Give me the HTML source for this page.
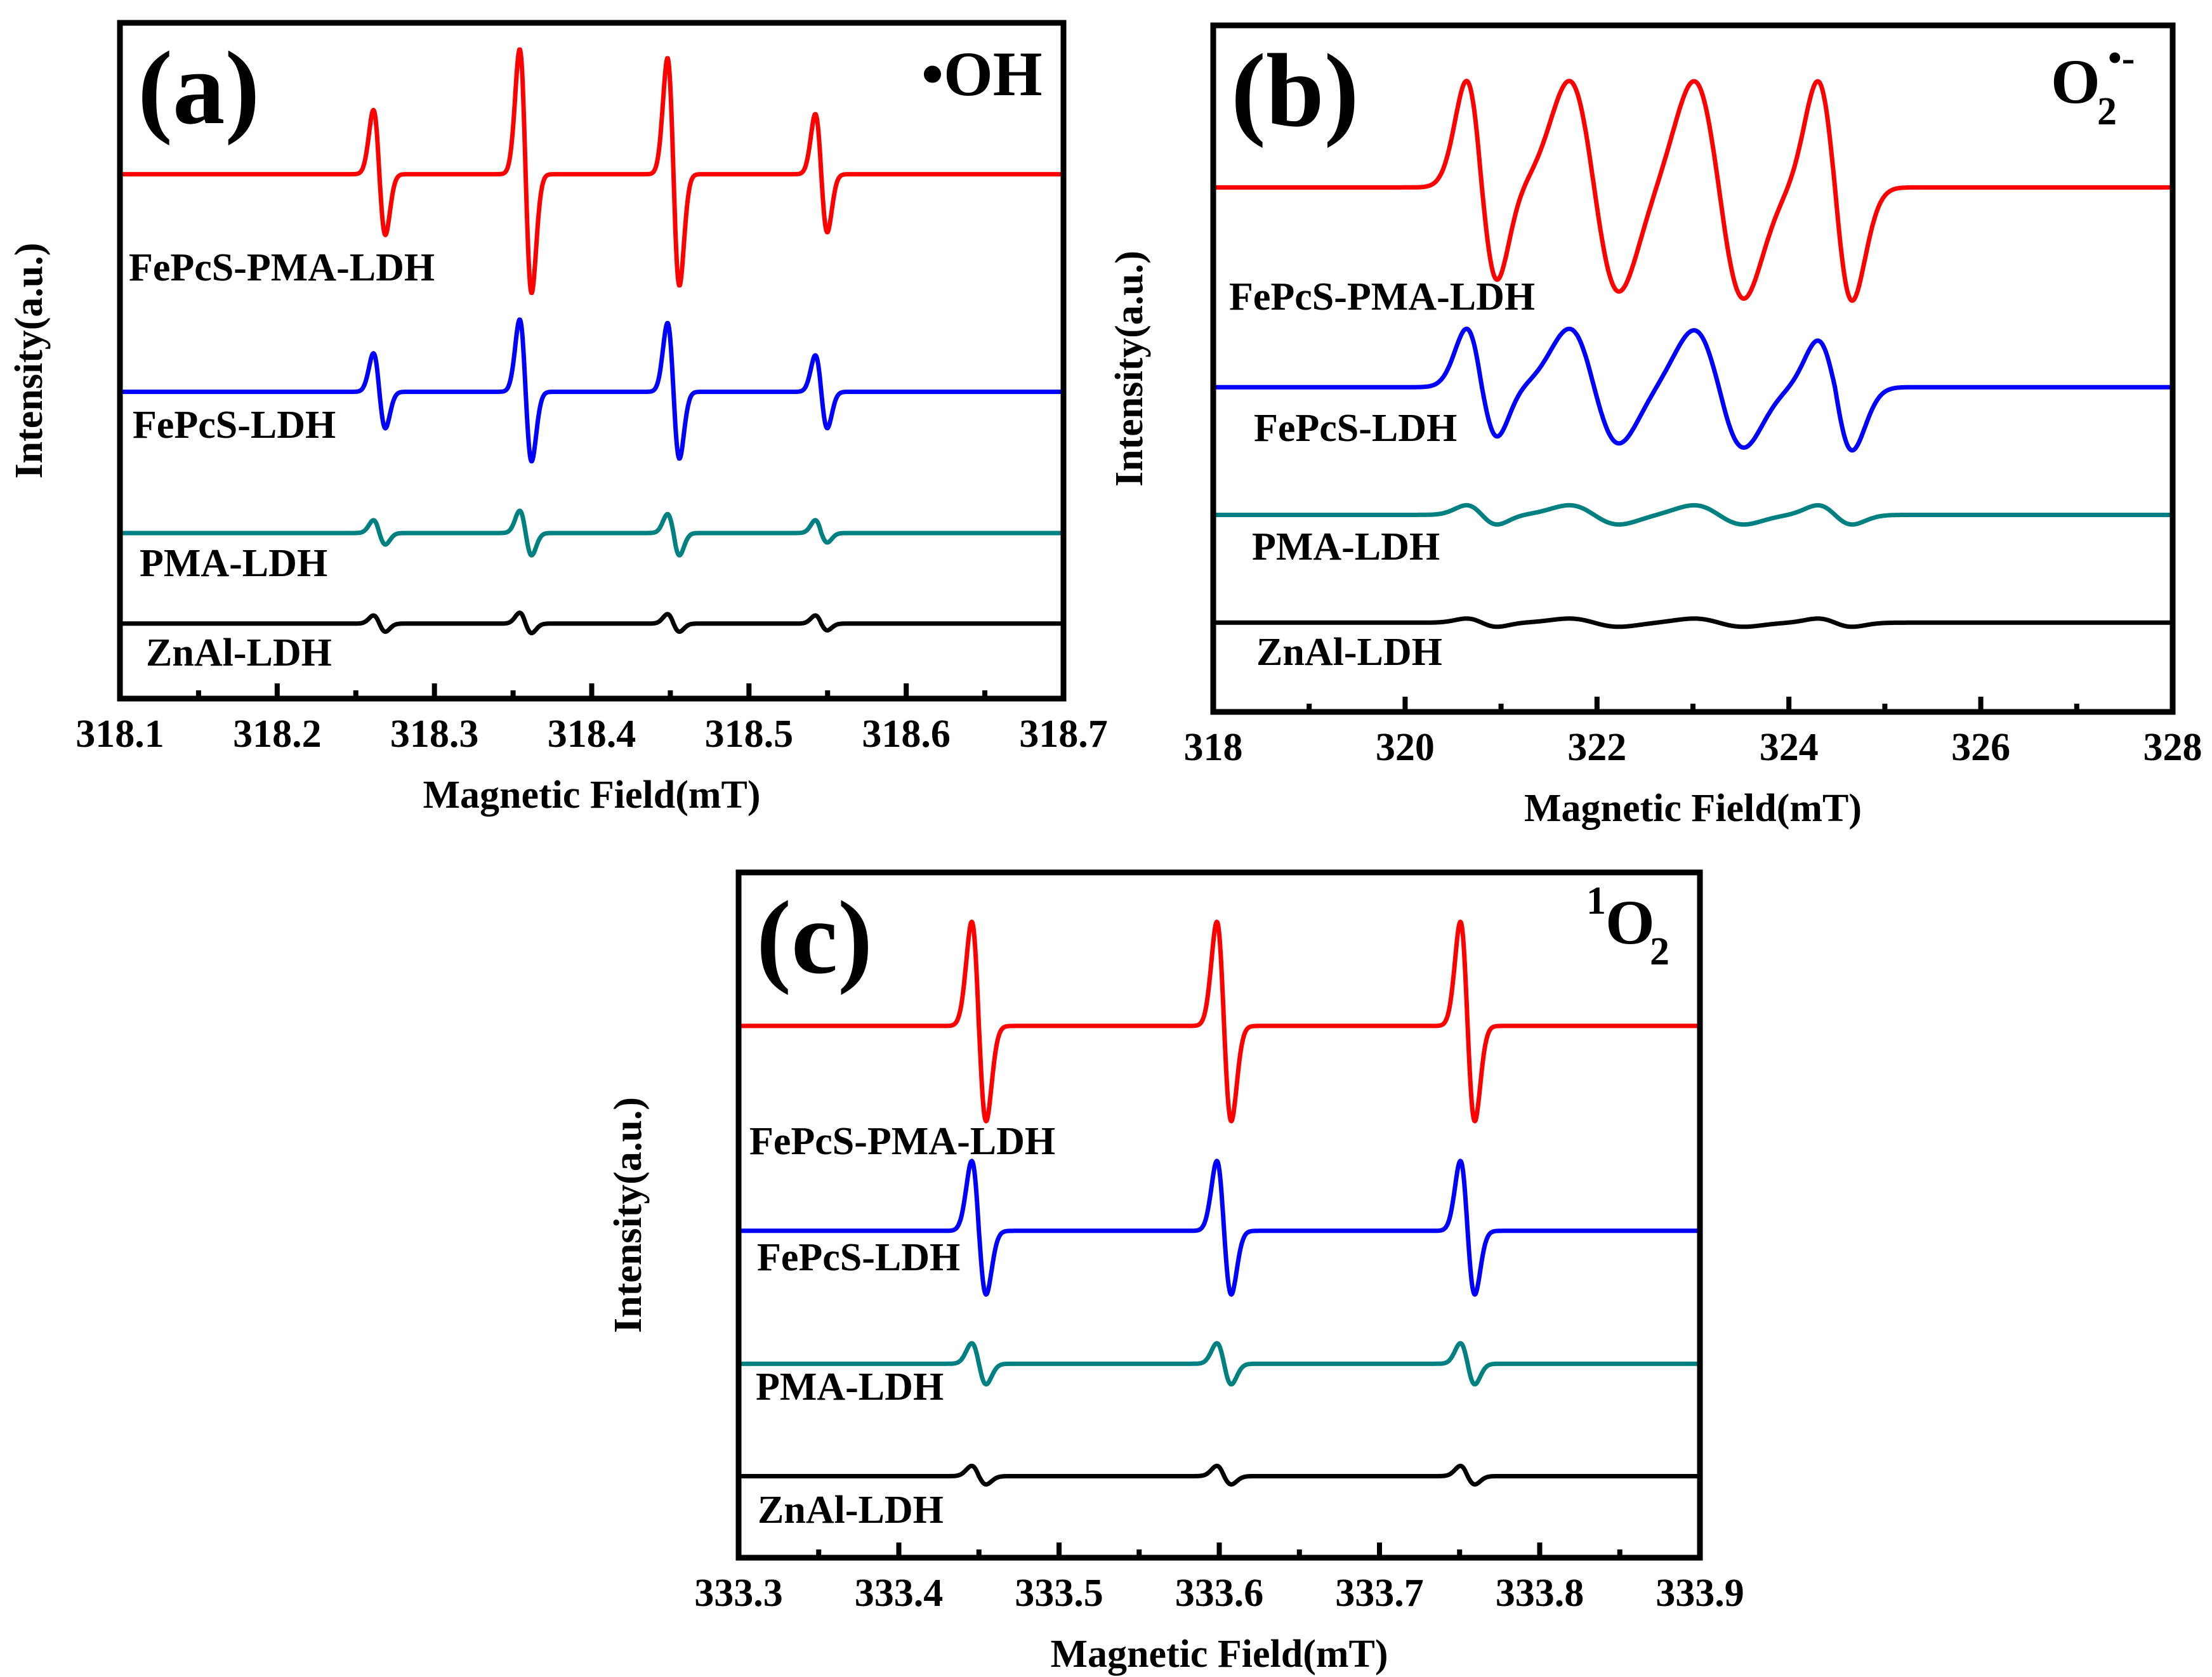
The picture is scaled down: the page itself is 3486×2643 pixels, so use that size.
<!DOCTYPE html>
<html><head><meta charset="utf-8"><title>EPR spectra</title>
<style>
html,body{margin:0;padding:0;background:#fff;}
svg{display:block;}
text{font-family:"Liberation Serif",serif;font-weight:bold;fill:#000;}
</style></head>
<body>
<svg id="fig" xmlns="http://www.w3.org/2000/svg" width="3486" height="2643" viewBox="0 0 3486 2643"></svg>
<script>
// ---------- data (intensity in arbitrary units, 0..1000 per panel) ----------
const seriesNames = ["FePcS-PMA-LDH","FePcS-LDH","PMA-LDH","ZnAl-LDH"];
const seriesColors = ["#ff0000","#0000ff","#008080","#000000"];

// Panel (a) •OH
const aTicks = [318.1,318.2,318.3,318.4,318.5,318.6,318.7];
const aTickLabels = ["318.1","318.2","318.3","318.4","318.5","318.6","318.7"];
const aCenters = [318.265,318.358,318.452,318.546];
const aWidths = [0.0038,0.0038,0.0038,0.0038];
const aBaselines = [776,454,245,111];
const aUp = [[95,185,172,89],[57,107,102,54],[19,33,28,19],[12,16,14,12]];
const aDown = [[90,176,165,86],[54,103,99,54],[17,33,33,14],[12,14,12,10]];

// Panel (b) O2•-
const bTicks = [318,320,322,324,326,328];
const bTickLabels = ["318","320","322","324","326","328"];
const bCenters = [320.80,321.97,323.27,324.48];
const bWidths = [0.16,0.26,0.26,0.18];
const bBaselines = [764,473,287,130];
const bUp = [[155,155,155,155],[85,85,83,68],[14,14,14,14],[6,6,6,6]];
const bDown = [[135,152,162,165],[72,82,88,92],[14,14,14,14],[6,6,6,6]];

// Panel (c) 1O2
const cTicks = [333.3,333.4,333.5,333.6,333.7,333.8,333.9];
const cTickLabels = ["333.3","333.4","333.5","333.6","333.7","333.8","333.9"];
const cCenters = [333.450,333.603,333.755];
const cWidths = [0.0045,0.0045,0.0045];
const cBaselines = [776,477,283,119];
const cUp = [[152,152,152],[102,102,102],[30,30,30],[15,15,15]];
const cDown = [[139,139,139],[93,93,93],[30,30,30],[12,12,12]];

const NS = "http://www.w3.org/2000/svg";
const svg = document.getElementById('fig');
function mk(tag, attrs, parent){
  const e = document.createElementNS(NS, tag);
  for (const k in attrs) e.setAttribute(k, attrs[k]);
  (parent||svg).appendChild(e);
  return e;
}

function drawPanel(p){
  const g = mk('g', {});
  
  
  const L=p.left, R=p.right, T=p.top, B=p.bottom;
  const xs = v => L + (v - p.xmin) / (p.xmax - p.xmin) * (R - L);
  const ys = v => B - v / 1000 * (B - T);

  for (let s = 0; s < 4; s++){
    let d = '';
    const N = 1500;
    for (let i = 0; i <= N; i++){
      const x = p.xmin + (p.xmax - p.xmin) * i / N;
      let v = p.baselines[s];
      for (let k = 0; k < p.centers.length; k++){
        const u = (x - p.centers[k]) / p.widths[k];
        const shape = -u * Math.exp(0.5 - u*u/2);
        v += shape * (shape > 0 ? p.up[s][k] : p.down[s][k]);
      }
      d += (i ? 'L' : 'M') + xs(x).toFixed(1) + ',' + ys(v).toFixed(1);
    }
    const path = mk('path', {d: d, fill: 'none', stroke: seriesColors[s], 'stroke-width': 7, 'stroke-linejoin': 'round'}, g);
    
    
    const t = mk('text', {x: p.labelX[s], y: p.labelY[s], 'font-size': 62}, g);
    t.textContent = seriesNames[s];
    
    
  }

  for (let i = 0; i < p.ticks.length; i++){
    const x = xs(p.ticks[i]);
    const tk = mk('line', {x1: x, x2: x, y1: B, y2: B - 24, stroke: '#000', 'stroke-width': 8}, g);
    
    
    const lb = mk('text', {x: x, y: B + 76, 'font-size': 62, 'text-anchor': 'middle'}, g);
    lb.textContent = p.tickLabels[i];
    
    
    if (i < p.ticks.length - 1){
      const xm = xs((p.ticks[i] + p.ticks[i+1]) / 2);
      const mt = mk('line', {x1: xm, x2: xm, y1: B, y2: B - 13, stroke: '#000', 'stroke-width': 8}, g);
      
      
    }
  }

  const fr = mk('rect', {x: L, y: T, width: R - L, height: B - T, fill: 'none', stroke: '#000', 'stroke-width': 9}, g);
  
  

  const xt = mk('text', {x: (L + R) / 2, y: B + 172, 'font-size': 62, 'text-anchor': 'middle'}, g);
  xt.textContent = 'Magnetic Field(mT)';
  
  
  const yt = mk('text', {x: 0, y: 0, 'font-size': 62, 'text-anchor': 'middle', transform: 'translate(' + p.yTitleX + ',' + ((T + B) / 2) + ') rotate(-90)'}, g);
  yt.textContent = 'Intensity(a.u.)';
  
  

  const pl = mk('text', {x: L + 28, y: T + 158, 'font-size': 165}, g);
  pl.textContent = '(' + p.id + ')';
  
  
  return g;
}

const gA = drawPanel({id:'a', left:189, right:1676, top:36, bottom:1101, xmin:318.1, xmax:318.7,
  ticks:aTicks, tickLabels:aTickLabels, centers:aCenters, widths:aWidths, baselines:aBaselines, up:aUp, down:aDown,
  labelX:[203,209,220,230], labelY:[442,690,908,1049], yTitleX:66});
const gB = drawPanel({id:'b', left:1912, right:3424, top:40, bottom:1122, xmin:318, xmax:328,
  ticks:bTicks, tickLabels:bTickLabels, centers:bCenters, widths:bWidths, baselines:bBaselines, up:bUp, down:bDown,
  labelX:[1937,1976,1973,1980], labelY:[488,695,882,1048], yTitleX:1800});
const gC = drawPanel({id:'c', left:1164, right:2679, top:1375, bottom:2455, xmin:333.3, xmax:333.9,
  ticks:cTicks, tickLabels:cTickLabels, centers:cCenters, widths:cWidths, baselines:cBaselines, up:cUp, down:cDown,
  labelX:[1181,1193,1191,1194], labelY:[1819,2002,2206,2400], yTitleX:1010});

let t;
t = mk('text', {x:1452, y:150, 'font-size':100}, gA);
t.textContent = '\u2022OH';



t = mk('text', {x:3232, y:162, 'font-size':100}, gB);
t.textContent = 'O';


t = mk('text', {x:3305, y:196, 'font-size':62}, gB);
t.textContent = '2';


t = mk('text', {x:3322, y:112, 'font-size':62}, gB);
t.textContent = '\u2022-';



t = mk('text', {x:2500, y:1440, 'font-size':62}, gC);
t.textContent = '1';


t = mk('text', {x:2530, y:1487, 'font-size':100}, gC);
t.textContent = 'O';


t = mk('text', {x:2600, y:1520, 'font-size':62}, gC);
t.textContent = '2';


</script>
</body></html>
